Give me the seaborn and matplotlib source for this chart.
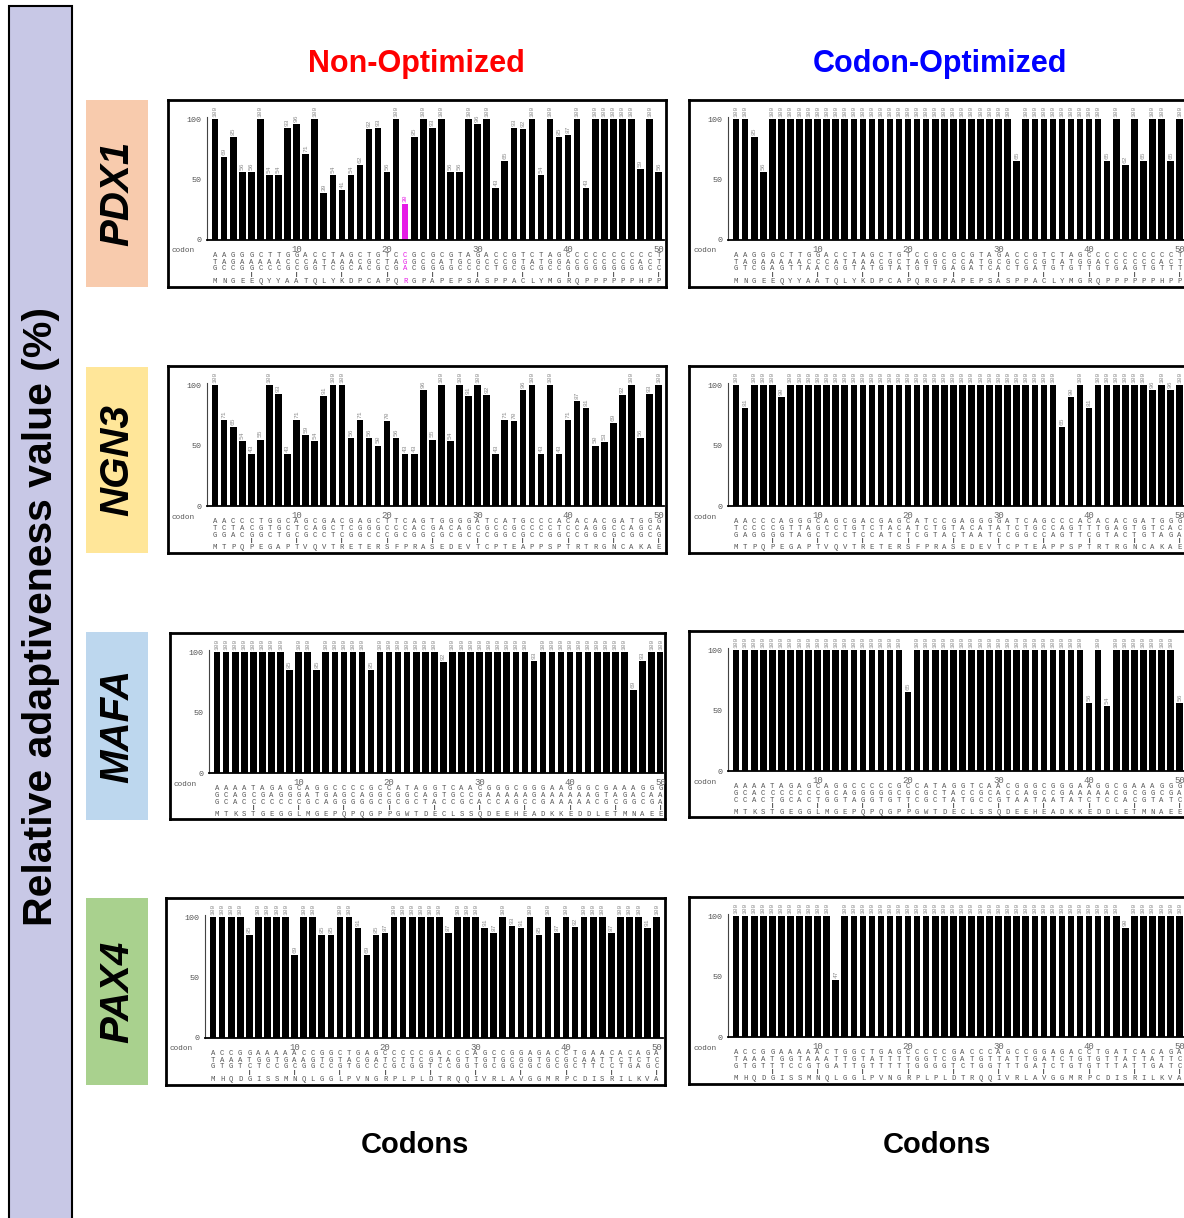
import matplotlib
matplotlib.use("Agg")
import matplotlib.pyplot as plt
import matplotlib.patches as mpatches
import pandas as pd
import seaborn as sns

FIG_W, FIG_H = 1184, 1218

codons = [str(i) for i in range(1, 51)]

# relative adaptiveness value (%) per codon
pdx1_non = [100, 69, 85, 56, 56, 100, 54, 54, 93, 96,
            71, 100, 39, 54, 41, 54, 62, 92, 93, 56,
            100, 30, 85, 100, 93, 100, 56, 56, 100, 96,
            100, 43, 65, 93, 92, 100, 54, 100, 85, 87,
            100, 43, 100, 100, 100, 100, 100, 59, 100, 56]
pdx1_opt = [100, 100, 85, 56, 100, 100, 100, 100, 100, 100,
            100, 100, 100, 100, 100, 100, 100, 100, 100, 100,
            100, 100, 100, 100, 100, 100, 100, 100, 100, 100,
            100, 65, 100, 100, 100, 100, 100, 100, 100, 100,
            100, 65, 100, 62, 100, 65, 100, 100, 65, 100]
ngn3_non = [100, 71, 65, 54, 43, 55, 100, 93, 43, 71,
            59, 54, 91, 100, 100, 56, 71, 56, 50, 70,
            56, 43, 43, 96, 55, 100, 54, 100, 91, 100,
            92, 43, 71, 70, 96, 100, 43, 100, 43, 71,
            87, 81, 50, 53, 69, 92, 100, 56, 93, 100]
ngn3_opt = [100, 81, 100, 100, 100, 90, 100, 100, 100, 100,
            100, 100, 100, 100, 100, 100, 100, 100, 100, 100,
            100, 100, 100, 100, 100, 100, 100, 100, 100, 100,
            100, 100, 100, 100, 100, 100, 65, 90, 100, 81,
            100, 100, 100, 100, 100, 100, 96, 100, 96, 100]
mafa_non = [100, 100, 100, 100, 100, 100, 100, 100, 85, 100,
            100, 85, 100, 100, 100, 100, 100, 85, 100, 100,
            100, 100, 100, 100, 100, 92, 100, 100, 100, 100,
            100, 100, 100, 100, 100, 93, 100, 100, 100, 100,
            100, 100, 100, 100, 100, 100, 69, 93, 100, 100]
mafa_opt = [100, 100, 100, 100, 100, 100, 100, 100, 100, 100,
            100, 100, 100, 100, 100, 100, 100, 100, 100, 65,
            100, 100, 100, 100, 100, 100, 100, 100, 100, 100,
            100, 100, 100, 100, 100, 100, 100, 100, 100, 56,
            100, 54, 100, 100, 100, 100, 100, 100, 100, 56]
pax4_non = [100, 100, 100, 100, 85, 100, 100, 100, 100, 69,
            100, 100, 85, 85, 100, 100, 91, 69, 85, 87,
            100, 100, 100, 100, 100, 100, 87, 100, 100, 100,
            91, 87, 100, 93, 91, 100, 85, 100, 87, 100,
            92, 100, 100, 100, 87, 100, 100, 100, 91, 100]
pax4_opt = [100, 100, 100, 100, 100, 100, 100, 100, 100, 100,
            100, 47, 100, 100, 100, 100, 100, 100, 100, 100,
            100, 100, 100, 100, 100, 100, 100, 100, 100, 100,
            100, 100, 100, 100, 100, 100, 100, 100, 100, 100,
            100, 100, 100, 90, 100, 100, 100, 100, 100, 100]

# amino acid sequences (first 50 residues)
pdx1_aa = "MNGEEQYYAATQLYKDPCAPQRGPAPEPSASPPACLYMGRQPPPPPPHPP"
ngn3_aa = "MTPQPEGAPTVQVTRETERSFPRASEDEVTCPTEAPPSPTRTRGNCAKAE"
mafa_aa = "MTKSTGEGGLMGEPQPQGPPGWTDECLSSQDEEHEADKKEDDLETMNAEE"
pax4_aa = "MHQDGISSMNQLGGLPVNGRPLPLDTRQQIVRLAVGGMRPCDISRILKVA"

# codon bases, one string per nucleotide position
pdx1_non_nt = ["AAGGGCTTGGACCTAGCTGTCCGCGCGTAGACCGTCTAGCCCCCCCCCCT",
               "TAGAAAAACCCATAAACGCTAGGCCATGCGCCCGTATGGACCCCCCCACT",
               "GCCGGCCCGCGGTCGCACGCGACGGGGCCCCTGCGCGCCGGGGGGGGGCC"]
pdx1_opt_nt = ["AAGGGCTTGGACCTAGCTGTCCGCGCGTAGACCGTCTAGCCCCCCCCCCT",
               "TAGAAAAACCCATAAACGCTAGGCCCATGCGCCCGTATGGACCCCCCACT",
               "GTCGAGTTAACGGTATGTATGTTGAGATCACTGATGTGTTGTGAGTGTTT"]
ngn3_non_nt = ["AACCCTGGCAGCGACGAGCTTCAGTGGGGATCATGCCCACACACGATGGG",
               "TCTACGTGCTCAGCTCGGGCCCACGACAGCGCCGCCCCTCCAGGCCAGCA",
               "GGACGGCTGCGCCTCGGCCCGCGGCGCGCCCGGCGCCGGCCGGCGCGGCG"]
ngn3_opt_nt = ["AACCCAGGGCAGCGACGAGCATCCGAGGGGATCAGCCCACACACGATGGG",
               "TCCCCGTTAGCCTGTCTACATCTGTACATATCTGCCAGTTTGAGTGTCAC",
               "GAGGGGTAGCTCCTCCATCTCGTACTAATCCGGCCAGTTCGTACTGTAGA"]
mafa_non_nt = ["AAAATAGAGCAGGCCCCGCCATAGGTCAACGGGCGGGAAGGGCGAAAGGG",
               "GCAGCGAGGGATGAGCAGGCGGCAGTGCCGAAAAAGAAAAAAGTAGACAA",
               "GCACCCCCCCGCAGGGGGCGCGCTACCGCACCAGCCGAAAAACGCGGCGA"]
mafa_opt_nt = ["AAAATAGAGCAGGCCCCCGCCATAGGTCAACGGGCGGGAAGGCGAAAGGG",
               "GCACCCCCCCGCAGGGGGCGCGCTACCGCACCAGCCGAAAAACGCGGCGA",
               "CCACTGCACTGGTAGGTGTTCGCTATGCCGTAATAATATCTCCACGTATC"]
pax4_non_nt = ["ACCGGAAAAACCGGCTGAGCCCCCGACCCAGCCGGAGACCTGAACACAGA",
               "TAAATGGTGAAGTGTACGATCTTCGTAGTTGTGCGGTGCGCAATTCTCTC",
               "GTGTCTCCGCGGCCGTGCCCGCGGTCCGGTGCGGCGCGCGCTTCCTGAGC"]
pax4_opt_nt = ["ACCGGAAAAACTGGCTGAGCCCCCGACCCAGCCGGAGACCTGATCACAGA",
               "TAAATGGTAAATTGTATTTTGGTCGATGTTATTGATCTGTGTTATTATTC",
               "GTGTTTCCGTGATTGTTTTTGGGGTCTGGTTTGATCTGTGTTTATTGATC"]

genes = ["PDX1", "NGN3", "MAFA", "PAX4"]
gene_colors = ["#F8CBAD", "#FFE699", "#BDD7EE", "#A9D18E"]
rare_codon = {"PDX1": 22}

HIGHLIGHT = "#E619E6"
MONO = "Liberation Mono"


def px_box(x0, y0, x1, y1):
    return [x0 / FIG_W, 1 - y1 / FIG_H, (x1 - x0) / FIG_W, (y1 - y0) / FIG_H]


def draw_panel(fig, frame, values, nt_rows, aa, highlight=None):
    x0, y0, x1, y1 = frame

    # outer frame around plot + sequence
    fax = fig.add_axes(px_box(x0, y0, x1, y1))
    fax.set_xticks([])
    fax.set_yticks([])
    for sp in fax.spines.values():
        sp.set_linewidth(2)
        sp.set_color("black")
    fax.text(4 / (x1 - x0), 1 - 151 / (y1 - y0), "codon", fontsize=5.5,
             family=MONO, color="#555555", ha="left", va="center",
             transform=fax.transAxes)

    ax_l, ax_r = x0 + 39, x1 - 2
    ax_t, ax_b = y0 + 1, y0 + 140
    ax_h = ax_b - ax_t
    ax = fig.add_axes(px_box(ax_l, ax_t, ax_r, ax_b))
    ax.patch.set_alpha(0)

    df = pd.DataFrame({"codon": codons, "rav": values})
    pal = {c: (HIGHLIGHT if highlight == i + 1 else "black")
           for i, c in enumerate(codons)}
    sns.barplot(data=df, x="codon", y="rav", hue="codon", palette=pal,
                legend=False, width=0.72, saturation=1, linewidth=0,
                err_kws={"linewidth": 0}, ax=ax)

    for i, cont in enumerate(ax.containers):
        col = HIGHLIGHT if highlight == i + 1 else "#8a8a8a"
        ax.bar_label(cont, fmt="{:.0f}", rotation=90, fontsize=4.5,
                     family=MONO, color=col, padding=1.5)

    ax.set_xlim(-0.9, -0.9 + (ax_r - ax_l) / 9.05)
    ax.set_ylim(0, 115)
    sns.despine(ax=ax)
    ax.spines["left"].set_bounds(0, 102)
    ax.spines["left"].set_color("#444444")
    ax.spines["bottom"].set_color("black")
    ax.spines["bottom"].set_linewidth(1.3)
    ax.set_yticks([0, 50, 100])
    ax.set_yticklabels(["0", "50", "100"], family=MONO, fontsize=6,
                       color="#555555")
    ax.tick_params(axis="y", length=3, width=0.8, color="#444444", pad=1)
    xt = [i for i, c in enumerate(codons) if int(c) % 5 == 0]
    ax.set_xticks(xt)
    ax.set_xticklabels([codons[i] if int(codons[i]) % 10 == 0 else ""
                        for i in xt], family=MONO, fontsize=6.5,
                       color="#666666")
    ax.tick_params(axis="x", length=5, width=1.6, direction="inout", pad=1,
                   color="black")
    ax.set_xlabel("")
    ax.set_ylabel("")

    trans = ax.get_xaxis_transform()
    offsets = [15.7, 22.3, 29.0]
    for i in range(len(codons)):
        col = HIGHLIGHT if highlight == i + 1 else "#555555"
        for off, row in zip(offsets, nt_rows):
            ax.text(i, -off / ax_h, row[i], transform=trans, ha="center",
                    va="center", fontsize=5.2, family=MONO, color=col)
        if int(codons[i]) % 5 == 0:
            ax.text(i, -34.7 / ax_h, "|", transform=trans, ha="center",
                    va="center", fontsize=3.5, fontweight="bold",
                    color="black")
        ax.text(i, -41.7 / ax_h, aa[i], transform=trans, ha="center",
                va="center", fontsize=5.2, family=MONO, color=col)


sns.set_style("white")
plt.rcParams["font.family"] = ["Liberation Sans", "DejaVu Sans"]
plt.rcParams["text.color"] = "black"

fig = plt.figure(figsize=(FIG_W / 100, FIG_H / 100), dpi=100)

# y label band
fig.add_artist(mpatches.Rectangle((9 / FIG_W, -0.01), 63 / FIG_W,
                                  1.01 - 6 / FIG_H, transform=fig.transFigure,
                                  facecolor="#C8C8E6", edgecolor="black",
                                  linewidth=1.5))
fig.text(41 / FIG_W, 1 - 616 / FIG_H, "Relative adaptiveness value (%)",
         rotation=90, ha="center", va="center", fontsize=29.5,
         fontweight="bold", color="black")

fig.text(416 / FIG_W, 1 - 64 / FIG_H, "Non-Optimized", color="#FF0000",
         ha="center", va="center", fontsize=22, fontweight="bold")
fig.text(940 / FIG_W, 1 - 64 / FIG_H, "Codon-Optimized", color="#0000FF",
         ha="center", va="center", fontsize=22, fontweight="bold")
fig.text(415 / FIG_W, 1 - 1145 / FIG_H, "Codons", ha="center", va="center",
         fontsize=21, fontweight="bold", color="black")
fig.text(937 / FIG_W, 1 - 1145 / FIG_H, "Codons", ha="center", va="center",
         fontsize=21, fontweight="bold", color="black")

gene_rows = [(100, 287), (367, 553), (632, 820), (898, 1085)]
left_frames = [(168, 100, 666, 287), (168, 366, 666, 553),
               (170, 633, 665, 819), (166, 898, 665, 1085)]
right_frames = [(689, 100, 1187, 287), (689, 366, 1187, 553),
                (689, 631, 1187, 817), (689, 897, 1187, 1084)]

non_vals = [pdx1_non, ngn3_non, mafa_non, pax4_non]
opt_vals = [pdx1_opt, ngn3_opt, mafa_opt, pax4_opt]
non_nt = [pdx1_non_nt, ngn3_non_nt, mafa_non_nt, pax4_non_nt]
opt_nt = [pdx1_opt_nt, ngn3_opt_nt, mafa_opt_nt, pax4_opt_nt]
aa_seqs = [pdx1_aa, ngn3_aa, mafa_aa, pax4_aa]

for k, gene in enumerate(genes):
    top, bot = gene_rows[k]
    fig.add_artist(mpatches.Rectangle((86 / FIG_W, 1 - bot / FIG_H),
                                      62 / FIG_W, (bot - top) / FIG_H,
                                      transform=fig.transFigure,
                                      facecolor=gene_colors[k],
                                      edgecolor="none"))
    fig.text(117 / FIG_W, 1 - (top + bot) / 2 / FIG_H, gene, rotation=90,
             ha="center", va="center", fontsize=29, fontweight="bold",
             fontstyle="italic", color="black")
    draw_panel(fig, left_frames[k], non_vals[k], non_nt[k], aa_seqs[k],
               highlight=rare_codon.get(gene))
    draw_panel(fig, right_frames[k], opt_vals[k], opt_nt[k], aa_seqs[k])

fig.savefig("out.png", dpi=100)
